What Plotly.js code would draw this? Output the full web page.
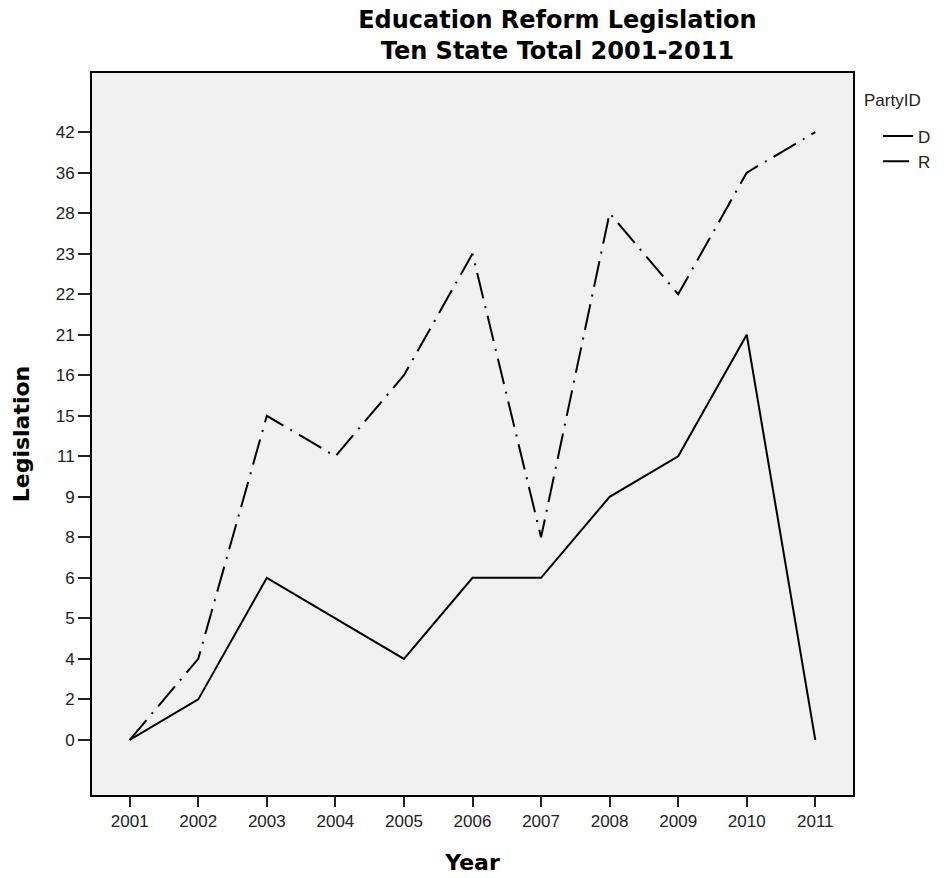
<!DOCTYPE html>
<html>
<head>
<meta charset="utf-8">
<script src="https://cdn.plot.ly/plotly-3.0.1.min.js"></script>
<style>html,body{margin:0;padding:0;background:#fff;}#chart{width:948px;height:878px;}</style>
</head>
<body>
<div id="chart"></div>
<script>
var years = [2001, 2002, 2003, 2004, 2005, 2006, 2007, 2008, 2009, 2010, 2011];
var yCategories = ["0","2","4","5","6","8","9","11","15","16","21","22","23","28","36","42"];
var seriesD = ["0","2","6","5","4","6","6","9","11","21","0"];
var seriesR = ["0","4","15","11","16","23","8","28","22","36","42"];

var traces = [
  {x: years, y: seriesD, name: "D", type: "scatter", mode: "lines",
   line: {color: "#000", width: 2}},
  {x: years, y: seriesR, name: "R", type: "scatter", mode: "lines",
   line: {color: "#000", width: 2, dash: "26px,8px,2px,8px"}}
];

var layout = {
  width: 948, height: 878,
  margin: {l: 92, r: 95, t: 73, b: 83},
  paper_bgcolor: "#fff",
  plot_bgcolor: "#f0f0f0",
  font: {family: "Liberation Sans, Arial, sans-serif", color: "#222", size: 17},
  title: {text: "<b>Education Reform Legislation<br>Ten State Total 2001-2011</b>",
          font: {family: "DejaVu Sans, sans-serif", size: 24, color: "#000"},
          x: 0.588, xanchor: "center", y: 0.968, yanchor: "top", xref: "container"},
  xaxis: {
    tickmode: "array", tickvals: years, ticktext: years.map(String),
    range: [2000.45, 2011.55],
    showgrid: false, zeroline: false,
    showline: true, linecolor: "#000", linewidth: 2, mirror: true,
    ticks: "outside", ticklen: 10, tickwidth: 2, tickcolor: "#222",
    tickfont: {size: 17, color: "#222"},
    title: {text: "<b>Year</b>", font: {family: "DejaVu Sans, sans-serif", size: 22, color: "#000"}, standoff: 24}
  },
  yaxis: {
    type: "category", categoryorder: "array", categoryarray: yCategories,
    range: [-1.36, 16.46],
    showgrid: false, zeroline: false,
    showline: true, linecolor: "#000", linewidth: 2, mirror: true,
    ticks: "outside", ticklen: 12, tickwidth: 2, tickcolor: "#222",
    tickfont: {size: 17, color: "#222"},
    title: {text: "<b>Legislation</b>", font: {family: "DejaVu Sans, sans-serif", size: 22, color: "#000"}, standoff: 20}
  },
  showlegend: true,
  legend: {
    x: 1.033, xanchor: "left", y: 0.937, yanchor: "top",
    bgcolor: "rgba(0,0,0,0)",
    font: {size: 17, color: "#222"},
    tracegroupgap: 0, itemwidth: 30
  },
  annotations: [
    {text: "PartyID", xref: "paper", yref: "paper", x: 1.012, y: 0.962,
     xanchor: "left", yanchor: "middle", showarrow: false,
     font: {size: 17, color: "#222"}}
  ]
};

Plotly.newPlot("chart", traces, layout, {displayModeBar: false, staticPlot: true});
</script>
</body>
</html>
